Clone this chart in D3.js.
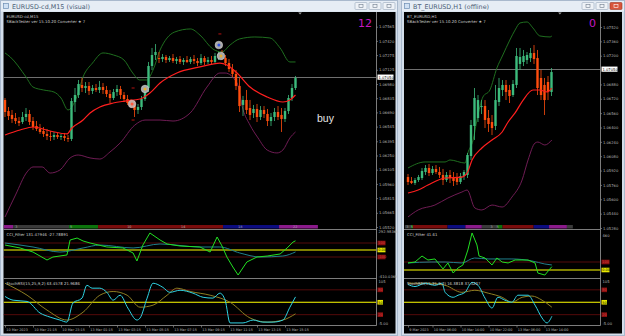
<!DOCTYPE html>
<html>
<head>
<meta charset="utf-8">
<script src="https://cdn.jsdelivr.net/npm/d3@7"></script>
<style>
  body { margin: 0; background: #cfdae7; }
  svg { display: block; font-family: "DejaVu Sans", sans-serif; }
</style>
</head>
<body>
<script>

// ---------- left window: EURUSD-cd,M15 (visual) ----------
// candles as [open, high, low, close]
var leftCandles = [
  [1.06817,1.06837,1.06643,1.06694],[1.06704,1.06745,1.06612,1.06653],[1.06664,1.06715,1.06582,1.06623],
  [1.06633,1.06684,1.06572,1.06602],[1.06602,1.06643,1.06551,1.06582],[1.06592,1.06694,1.06572,1.06643],
  [1.06643,1.06735,1.06602,1.06674],[1.06674,1.06715,1.06561,1.06592],[1.06602,1.06643,1.06510,1.06541],
  [1.06551,1.06602,1.06500,1.06521],[1.06521,1.06572,1.06470,1.06490],[1.06500,1.06541,1.06439,1.06470],
  [1.06470,1.06521,1.06408,1.06449],[1.06449,1.06500,1.06398,1.06439],[1.06439,1.06490,1.06408,1.06459],
  [1.06459,1.06480,1.06419,1.06439],[1.06439,1.06470,1.06408,1.06449],[1.06449,1.06480,1.06398,1.06429],
  [1.06429,1.06459,1.06388,1.06419],[1.06419,1.06837,1.06398,1.06806],[1.06796,1.06939,1.06694,1.06868],
  [1.06868,1.07021,1.06837,1.06980],[1.06970,1.07041,1.06898,1.06939],[1.06939,1.07000,1.06888,1.06960],
  [1.06960,1.07000,1.06868,1.06909],[1.06909,1.06970,1.06878,1.06939],[1.06939,1.06980,1.06898,1.06919],
  [1.06919,1.07011,1.06888,1.06949],[1.06949,1.06990,1.06878,1.06919],[1.06919,1.06960,1.06847,1.06878],
  [1.06878,1.06919,1.06786,1.06837],[1.06837,1.06929,1.06817,1.06898],[1.06898,1.06970,1.06858,1.06929],
  [1.06929,1.06960,1.06827,1.06868],[1.06868,1.06898,1.06796,1.06827],[1.06827,1.06868,1.06766,1.06786],
  [1.06786,1.06827,1.06735,1.06755],[1.06755,1.06806,1.06643,1.06715],[1.06715,1.06776,1.06674,1.06745],
  [1.06745,1.06858,1.06715,1.06827],[1.06827,1.06970,1.06806,1.06939],[1.06939,1.07205,1.06898,1.07164],
  [1.07164,1.07348,1.07123,1.07276],[1.07276,1.07388,1.07225,1.07307],[1.07245,1.07307,1.07194,1.07235],
  [1.07235,1.07286,1.07205,1.07256],[1.07256,1.07276,1.07194,1.07225],[1.07225,1.07266,1.07205,1.07245],
  [1.07245,1.07286,1.07194,1.07215],[1.07215,1.07256,1.07184,1.07235],[1.07235,1.07266,1.07184,1.07205],
  [1.07205,1.07245,1.07174,1.07225],[1.07225,1.07266,1.07194,1.07205],[1.07205,1.07256,1.07184,1.07235],
  [1.07235,1.07276,1.07184,1.07215],[1.07215,1.07245,1.07164,1.07194],[1.07194,1.07286,1.07174,1.07245],
  [1.07245,1.07266,1.07174,1.07205],[1.07205,1.07256,1.07184,1.07225],[1.07225,1.07266,1.07184,1.07205],
  [1.07205,1.07297,1.07194,1.07266],[1.07266,1.07307,1.07225,1.07286],[1.07276,1.07327,1.07225,1.07245],
  [1.07245,1.07276,1.07164,1.07194],[1.07194,1.07235,1.07103,1.07133],[1.07133,1.07184,1.07052,1.07082],
  [1.07082,1.07123,1.06919,1.06960],[1.06960,1.07041,1.06694,1.06755],[1.06766,1.06858,1.06653,1.06817],
  [1.06817,1.06919,1.06674,1.06715],[1.06735,1.06817,1.06612,1.06664],[1.06684,1.06766,1.06633,1.06725],
  [1.06725,1.06776,1.06592,1.06643],[1.06643,1.06755,1.06612,1.06715],[1.06715,1.06755,1.06633,1.06674],
  [1.06674,1.06725,1.06551,1.06602],[1.06602,1.06684,1.06551,1.06643],[1.06643,1.06735,1.06602,1.06694],
  [1.06694,1.06755,1.06612,1.06643],[1.06664,1.06735,1.06490,1.06623],[1.06623,1.06735,1.06592,1.06704],
  [1.06704,1.06868,1.06674,1.06837],[1.06837,1.06980,1.06806,1.06939],[1.06939,1.07062,1.06919,1.07041]
];
// bands and moving average as [candle index, price]
var leftUpper = [[0,1.07297],[1.5,1.07256],[6,1.07052],[8,1.06949],[11,1.06919],[14,1.06898],[16,1.06837],
  [18,1.06715],[20.5,1.06847],[22.3,1.07052],[25,1.07194],[28,1.07297],[31,1.07276],[34,1.07225],
  [36.5,1.07092],[38.5,1.07021],[40.5,1.07021],[42.3,1.07123],[44.3,1.07327],[46.3,1.07450],[48.5,1.07511],
  [53,1.07542],[55.7,1.07480],[59.4,1.07337],[62,1.07307],[64.3,1.07378],[67,1.07440],[71.4,1.07460],
  [75.7,1.07450],[78.6,1.07348],[81.4,1.07205],[83,1.07205]];
var leftLower = [[0,1.05622],[3,1.05847],[6.3,1.06082],[8,1.06133],[10.6,1.06133],[12.9,1.06071],[15.7,1.06102],
  [18.6,1.06225],[20.9,1.06255],[24.3,1.06225],[27.1,1.06214],[30,1.06286],[32.9,1.06378],[37.1,1.06561],
  [40,1.06612],[44.3,1.06612],[48,1.06602],[52.9,1.06684],[57.7,1.06949],[61.4,1.07092],[62.9,1.07092],
  [66.3,1.06990],[68,1.06720],[70,1.06561],[72.3,1.06429],[74.9,1.06306],[77.7,1.06276],[79.4,1.06306],
  [81.4,1.06429],[83,1.06490]];
var leftMA = [[0,1.06459],[4.3,1.06510],[8,1.06541],[12.9,1.06500],[17.7,1.06470],[19.1,1.06531],[22.3,1.06612],
  [24.3,1.06684],[27.1,1.06745],[30.9,1.06786],[34.3,1.06806],[38.6,1.06827],[41.4,1.06888],[44.3,1.06990],
  [49.1,1.07092],[55.7,1.07154],[61.4,1.07194],[63.4,1.07174],[66.3,1.07092],[70,1.06949],[74.9,1.06847],
  [79.4,1.06796],[81.4,1.06817],[83,1.06868]];
// signal markers [candle index, price, kind]
var leftSignals = [[36.3,1.06776,"exit"],[40,1.06929,"add"],[61.1,1.07378,"buy"],[61.7,1.07266,"add"]];
var leftDashes = [[36.6,1.06939],[36.6,1.06612],[61.4,1.07491]];
var leftCciMain = [[0,71],[4.3,29],[8,-29],[12,-143],[13.7,-100],[17.7,-71],[18.6,143],[20.6,171],[22.3,129],
  [24.3,100],[29.1,43],[33.7,29],[36.6,-43],[37.7,-157],[39.4,71],[41.4,243],[44.3,143],[46.3,86],[50,57],
  [55.7,43],[58.6,-29],[60.6,186],[62,57],[63.4,-100],[65.1,-243],[66.6,-357],[69.1,-171],[72,-100],
  [74.9,-86],[78.6,-57],[80.6,29],[82.3,114],[83,131]];
var leftCciSignal = [[0,100],[8,43],[15.7,-29],[22.3,29],[27.1,71],[36.6,29],[44.3,86],[55.7,43],[61.4,43],
  [67.1,-43],[72.9,-100],[79.4,-86],[83,-28]];
var leftStoch = [[0,64],[2.3,55],[6.3,52],[10,24],[12.9,14],[15.7,7],[17.7,2],[19.4,48],[22,60],[23.4,91],
  [24.9,84],[27.1,84],[29.1,74],[30.9,55],[32.9,67],[35.1,36],[37.7,7],[38.6,12],[40.6,60],[42.3,96],
  [45.1,86],[47.1,74],[50,79],[53.7,72],[56.6,62],[59.4,60],[61.4,72],[62.9,55],[64.3,0],[68,0],[70.9,7],
  [73.7,2],[76.6,2],[79.4,7],[81.4,38],[83,63]];
var leftStochSignal = [[0,96],[6.3,67],[12,31],[17.7,7],[22.3,26],[27.1,67],[30.9,76],[34.9,67],[38.6,38],
  [42.3,43],[46.3,67],[49.1,84],[52.9,76],[58.6,67],[64.3,50],[70,12],[74.9,2],[79.4,7],[83,22]];
var leftPriceTicks = [1.07565,1.07420,1.07275,1.07125,1.06980,1.06835,1.06690,1.06545,1.06395,1.06250,
  1.06105,1.05960,1.05815,1.05665,1.05520];
var leftTimeLabels = [[0,"10 Mar 2023"],[8,"10 Mar 21:15"],[16,"10 Mar 23:15"],[24,"13 Mar 01:15"],
  [32,"13 Mar 03:15"],[40,"13 Mar 05:15"],[48,"13 Mar 07:15"],[56,"13 Mar 09:15"],[64,"13 Mar 11:15"],
  [72,"13 Mar 13:15"],[80,"13 Mar 15:15"]];
var leftSessions = [[-0.4,2.3,"pu"],[2.3,18.3,"gy"],[18.3,26.6,"gr"],[26.6,62.3,"rd"],[62.3,78.3,"nv"],[78.3,89.4,"pu"]];
var leftSessionLabels = [[2.9,"3"],[18.6,"5"],[34.9,"10"],[50.3,"14"],[66.6,"18"],[82.3,"22"]];

// ---------- right window: BT_EURUSD,H1 (offline) ----------
var rightCandles = [
  [1.05848,1.05882,1.05759,1.05793],[1.05804,1.05848,1.05770,1.05781],[1.05781,1.05837,1.05759,1.05815],
  [1.05815,1.05871,1.05793,1.05848],[1.05837,1.05949,1.05815,1.05915],[1.05904,1.05982,1.05871,1.05949],
  [1.05949,1.05993,1.05859,1.05893],[1.05893,1.05971,1.05871,1.05938],[1.05938,1.05982,1.05882,1.05904],
  [1.05904,1.05960,1.05837,1.05871],[1.05871,1.05938,1.05759,1.05815],[1.05815,1.05904,1.05793,1.05871],
  [1.05871,1.05926,1.05781,1.05837],[1.05837,1.05904,1.05748,1.05804],[1.05837,1.05893,1.05759,1.05793],
  [1.05793,1.05893,1.05770,1.05859],[1.05859,1.05926,1.05815,1.05904],[1.05871,1.06116,1.05837,1.06094],
  [1.06082,1.06484,1.06038,1.06428],[1.06417,1.06840,1.06261,1.06729],[1.06506,1.06762,1.06461,1.06706],
  [1.06628,1.06706,1.06550,1.06640],[1.06640,1.06706,1.06394,1.06484],[1.06506,1.06595,1.06350,1.06439],
  [1.06461,1.06539,1.06316,1.06394],[1.06417,1.06874,1.06372,1.06706],[1.06684,1.06952,1.06640,1.06840],
  [1.06818,1.06929,1.06751,1.06874],[1.06874,1.06929,1.06706,1.06796],[1.06818,1.06874,1.06673,1.06751],
  [1.06762,1.06929,1.06740,1.06885],[1.06874,1.07286,1.06840,1.07197],[1.07108,1.07286,1.07041,1.07186],
  [1.07130,1.07264,1.07085,1.07197],[1.07152,1.07241,1.07108,1.07208],[1.07174,1.07286,1.07130,1.07230],
  [1.07230,1.07319,1.07108,1.07163],[1.07174,1.07264,1.06762,1.06840],[1.06952,1.07041,1.06706,1.06762],
  [1.06874,1.06952,1.06539,1.06706],[1.06907,1.06974,1.06706,1.06796],[1.06796,1.07063,1.06751,1.07018]
];
var rightUpper = [[0,1.05949],[4.9,1.06016],[10.6,1.06016],[12,1.06038],[16.3,1.06004],[17.1,1.06116],
  [18.6,1.06261],[19.7,1.06484],[21.4,1.06740],[23.4,1.06818],[25.4,1.07063],[27.1,1.07208],[29.1,1.07375],
  [30.6,1.07487],[32,1.07565],[34,1.07576],[35.7,1.07509],[37.7,1.07420],[40.6,1.07409],[41.1,1.07420]];
var rightLower = [[0,1.05403],[2.9,1.05481],[7.7,1.05536],[11.4,1.05614],[15.4,1.05681],[16.9,1.05703],
  [19.1,1.05503],[21.1,1.05481],[24,1.05536],[26.9,1.05514],[29.7,1.05625],[32.6,1.05815],[34.3,1.06038],
  [36.3,1.06227],[37.1,1.06238],[39.1,1.06205],[41.1,1.06261]];
var rightMA = [[0,1.05670],[2.9,1.05703],[5.7,1.05759],[10.6,1.05837],[15.4,1.05848],[16.9,1.05893],
  [18.3,1.06038],[21.1,1.06172],[24,1.06261],[26.9,1.06350],[28.6,1.06461],[30.6,1.06562],[32.9,1.06706],
  [35.7,1.06818],[37.7,1.06818],[39.7,1.06796],[41.1,1.06840]];
var rightCciMain = [[0,88],[2,100],[4,175],[5.7,125],[7.7,138],[10,13],[11.4,88],[12.9,-38],[14.3,25],
  [15.7,63],[17.1,250],[18.3,463],[19.7,313],[20.3,175],[22,150],[24,63],[25.4,150],[26.9,100],[28.6,88],
  [30.6,125],[34.3,125],[36.3,88],[37.1,-38],[39.1,-63],[41.1,42]];
var rightCciSignal = [[0,88],[6.6,100],[10.6,100],[15.4,88],[19,150],[22.9,138],[29.7,138],[35.4,113],
  [39.1,75],[41.1,63]];
var rightStoch = [[0,93],[2,88],[4.9,96],[7.7,91],[9.7,96],[10.6,74],[12.9,62],[14.3,67],[16.3,74],[18.3,98],
  [20,91],[22,60],[24,36],[25.7,62],[27.7,55],[29.7,50],[31.4,67],[34.3,67],[36.3,43],[38.3,12],[39.7,0],
  [41.1,16]];
var rightStochSignal = [[0,96],[5.7,96],[10.6,91],[15.4,74],[19.1,79],[22.9,72],[26.9,62],[29.7,50],
  [32.6,62],[35.4,65],[38.3,55],[41.1,38]];
var rightPriceTicks = [1.07520,1.07360,1.07200,1.06880,1.06720,1.06560,1.06400,1.06240,1.06080,1.05920,
  1.05760,1.05600,1.05440,1.05280];
var rightTimeLabels = [[0,"9 Mar 2023"],[7,"10 Mar 06:00"],[15,"10 Mar 14:00"],[23,"10 Mar 22:00"],
  [31,"13 Mar 06:00"],[39,"13 Mar 14:00"]];
var rightSessions = [[-0.9,0.9,"gy"],[0.9,1.4,"gr"],[1.4,11.3,"rd"],[11.3,16.4,"nv"],[16.4,21.1,"pu"],
  [21.1,25.6,"gy"],[25.6,27,"gr"],[27,35.9,"rd"],[35.9,40.3,"nv"],[40.3,45.4,"pu"],[45.4,47.1,"gy"]];
var rightSessionLabels = [[-0.5,"3"],[0.8,"5"],[23.6,"3"],[25.3,"5"]];


var svg = d3.select("body").append("svg")
            .attr("width", 625)
            .attr("height", 336);

var sessionColor = {pu: "#8a1a8a", gy: "#3a3a3a", gr: "#0c740c", rd: "#7a0c0c", nv: "#0c0c80"};
var bull = "#3dbb7c", bear = "#ff4d0d";
var smallFont = "3.7px";

// window frames and title bars
drawFrame(0, 398, "EURUSD-cd,M15 (visual)", false);
drawFrame(401, 625, "BT_EURUSD,H1 (offline)", true);

drawChart({
  name: "left", left: 3.5, right: 395.5, axisX: 376, firstX: 5, step: 3.5,
  priceDomain: [1.05520, 1.07565], priceRange: [227, 26.7], current: 1.07050,
  cciDomain: [-410.0369, 292.98366], cciRange: [278.7, 229.5],
  cciTop: "292.98366", cciBottom: "-410.0369", cciLevels: [100, -100],
  candles: leftCandles, upper: leftUpper, lower: leftLower, ma: leftMA,
  cciMain: leftCciMain, cciSignal: leftCciSignal, stoch: leftStoch, stochSignal: leftStochSignal,
  priceTicks: leftPriceTicks, timeLabels: leftTimeLabels,
  sessions: leftSessions, sessionLabels: leftSessionLabels, shiftIdx: 84.3,
  symbol: "EURUSD-cd,M15", counter: "12",
  cciText: "CCI_Filter 131.47946 -27.78891", stochText: "StochRSI(15,25,9,2) 63.4578 21.9686"
});

drawChart({
  name: "right", left: 404, right: 622, axisX: 600, firstX: 408, step: 3.5,
  priceDomain: [1.05280, 1.07520], priceRange: [228, 27], current: 1.07050,
  cciDomain: [-100, 460], cciRange: [278, 233.2],
  cciTop: "460", cciBottom: "", cciLevels: [100],
  candles: rightCandles, upper: rightUpper, lower: rightLower, ma: rightMA,
  cciMain: rightCciMain, cciSignal: rightCciSignal, stoch: rightStoch, stochSignal: rightStochSignal,
  priceTicks: rightPriceTicks, timeLabels: rightTimeLabels,
  sessions: rightSessions, sessionLabels: rightSessionLabels, shiftIdx: 43.4,
  symbol: "BT_EURUSD,H1", counter: "0",
  cciText: "CCI_Filter 41.61", stochText: "StochRSI(15,25,9,2) 16.3818 37.5227"
});

// the "buy" note on the left chart
svg.append("text")
   .attr("x", 317).attr("y", 122)
   .attr("fill", "#e6e6e6")
   .style("font-family", "Arial, 'Liberation Sans', sans-serif")
   .style("font-size", "10.5px")
   .text("buy");


/**
* Draws the window border, title bar and the three caption buttons.
**/
function drawFrame(x0, x1, title, closeRed) {
	var g = svg.append("g");
	g.append("rect")
	 .attr("x", x0 + 0.5).attr("y", 0.5)
	 .attr("width", x1 - x0 - 1).attr("height", 335)
	 .attr("fill", "#d3deeb").attr("stroke", "#a9b9cd");
	g.append("rect")
	 .attr("x", x0 + 1).attr("y", 1)
	 .attr("width", x1 - x0 - 2).attr("height", 10.5)
	 .attr("fill", "#e6edf5");

	// little window icon
	g.append("rect")
	 .attr("x", x0 + 3.5).attr("y", 3.5).attr("width", 5).attr("height", 5)
	 .attr("fill", "#cfe0f3").attr("stroke", "#6d8db3").attr("stroke-width", 0.7);

	g.append("text")
	 .attr("x", x0 + 12).attr("y", 8.6)
	 .attr("fill", "#4b5d76")
	 .style("font-size", "6.4px")
	 .text(title);

	// caption buttons
	var bx = [x1 - 43, x1 - 29, x1 - 15];
	bx.forEach(function(b, i) {
		var red = closeRed && i == 2;
		g.append("rect")
		 .attr("x", b).attr("y", 2.5).attr("width", 12).attr("height", 7)
		 .attr("rx", 1)
		 .attr("fill", red ? "#d8553a" : "#eef2f7")
		 .attr("stroke", red ? "#9c3522" : "#98a8bc").attr("stroke-width", 0.6);
		g.append("rect")
		 .attr("x", b + 4).attr("y", 4.5).attr("width", 4).attr("height", 3)
		 .attr("fill", "none")
		 .attr("stroke", red ? "#fff" : "#707c8c").attr("stroke-width", 0.6);
	});
}


/**
* Draws one terminal chart: price panel with candles, bands and MA,
* the CCI panel, the StochRSI panel and the axes.
**/
function drawChart(cfg) {
	var g = svg.append("g");

	// black chart area
	g.append("rect")
	 .attr("x", cfg.left).attr("y", 12)
	 .attr("width", cfg.right - cfg.left).attr("height", 321.5)
	 .attr("fill", "#000");

	// scales
	var x = d3.scaleLinear().domain([0, 1]).range([cfg.firstX, cfg.firstX + cfg.step]);
	var y = d3.scaleLinear().domain(cfg.priceDomain).range(cfg.priceRange);
	var yCci = d3.scaleLinear().domain(cfg.cciDomain).range(cfg.cciRange);
	var yStoch = d3.scaleLinear().domain([-5, 105]).range([325, 279.5]);

	var clipId = "clip-" + cfg.name;
	var clip = g.append("clipPath").attr("id", clipId);
	clip.append("rect")
	    .attr("x", cfg.left).attr("y", 12)
	    .attr("width", cfg.axisX - cfg.left).attr("height", 313);

	var plot = g.append("g").attr("clip-path", "url(#" + clipId + ")");

	// current price line
	plot.append("line")
	    .attr("x1", cfg.left).attr("x2", cfg.axisX)
	    .attr("y1", Math.round(y(cfg.current)) + 0.5).attr("y2", Math.round(y(cfg.current)) + 0.5)
	    .attr("stroke", "#8c8c8c").attr("stroke-width", 0.8);

	var priceLine = d3.line()
	                  .x(function(d) { return x(d[0]); })
	                  .y(function(d) { return y(d[1]); })
	                  .curve(d3.curveMonotoneX);

	// bollinger style bands and moving average
	plot.append("path").datum(cfg.upper)
	    .attr("d", priceLine).attr("fill", "none")
	    .attr("stroke", "#237a23").attr("stroke-width", 0.9);
	plot.append("path").datum(cfg.lower)
	    .attr("d", priceLine).attr("fill", "none")
	    .attr("stroke", "#7c1f5e").attr("stroke-width", 0.9);

	// candles
	var candle = plot.selectAll(".candle")
	                 .data(cfg.candles)
	                 .enter().append("g")
	                 .attr("class", "candle");

	candle.append("line")
	      .attr("x1", function(d, i) { return x(i); })
	      .attr("x2", function(d, i) { return x(i); })
	      .attr("y1", function(d) { return y(d[1]); })
	      .attr("y2", function(d) { return y(d[2]); })
	      .attr("stroke", function(d) { return d[3] >= d[0] ? bull : bear; })
	      .attr("stroke-width", 0.8);

	candle.append("rect")
	      .attr("x", function(d, i) { return x(i) - 1.2; })
	      .attr("width", 2.4)
	      .attr("y", function(d) { return y(Math.max(d[0], d[3])); })
	      .attr("height", function(d) { return Math.max(0.8, Math.abs(y(d[0]) - y(d[3]))); })
	      .attr("fill", function(d) { return d[3] >= d[0] ? bull : bear; });

	plot.append("path").datum(cfg.ma)
	    .attr("d", priceLine).attr("fill", "none")
	    .attr("stroke", "#ff1f1f").attr("stroke-width", 1.2);

	// signal dashes and circles (left chart only)
	if (cfg.name == "left") {
		plot.selectAll(".dash")
		    .data(leftDashes)
		    .enter().append("line")
		    .attr("x1", function(d) { return x(d[0]) - 1.5; })
		    .attr("x2", function(d) { return x(d[0]) + 1.5; })
		    .attr("y1", function(d) { return y(d[1]); })
		    .attr("y2", function(d) { return y(d[1]); })
		    .attr("stroke", "#c81414").attr("stroke-width", 0.9);

		var inner = {exit: "#ff5a3c", add: "#e8b030", buy: "#3050e0"};
		var sig = plot.selectAll(".sig")
		              .data(leftSignals)
		              .enter().append("g")
		              .attr("transform", function(d) { return "translate(" + x(d[0]) + "," + y(d[1]) + ")"; });
		sig.append("circle").attr("r", 3.8)
		   .attr("fill", function(d) { return d[2] == "exit" ? "#c8a8a0" : "#a8a8a8"; })
		   .attr("stroke", "#e0e0e0").attr("stroke-width", 0.5);
		sig.append("circle").attr("r", 1.5)
		   .attr("fill", function(d) { return inner[d[2]]; });
	}

	// session colour bar at the bottom of the price panel
	plot.selectAll(".session")
	    .data(cfg.sessions)
	    .enter().append("rect")
	    .attr("x", function(d) { return x(d[0]); })
	    .attr("width", function(d) { return x(d[1]) - x(d[0]); })
	    .attr("y", 225).attr("height", 3.5)
	    .attr("fill", function(d) { return sessionColor[d[2]]; });
	plot.selectAll(".sessionLabel")
	    .data(cfg.sessionLabels)
	    .enter().append("text")
	    .attr("x", function(d) { return x(d[0]); })
	    .attr("y", 228.3)
	    .attr("fill", "#b0b0b0")
	    .style("font-size", "3.4px")
	    .text(function(d) { return d[1]; });

	// CCI panel
	var levelColor = "#6a0d0d";
	cfg.cciLevels.forEach(function(v) {
		plot.append("line")
		    .attr("x1", cfg.left).attr("x2", cfg.axisX)
		    .attr("y1", yCci(v)).attr("y2", yCci(v))
		    .attr("stroke", levelColor).attr("stroke-width", 0.8);
	});
	plot.append("line")
	    .attr("x1", cfg.left).attr("x2", cfg.axisX)
	    .attr("y1", yCci(0)).attr("y2", yCci(0))
	    .attr("stroke", "#ffff00").attr("stroke-width", 1.2);

	var cciLine = d3.line()
	                .x(function(d) { return x(d[0]); })
	                .y(function(d) { return yCci(d[1]); });
	plot.append("path").datum(cfg.cciSignal)
	    .attr("d", cciLine.curve(d3.curveMonotoneX)).attr("fill", "none")
	    .attr("stroke", "#1f7f8c").attr("stroke-width", 1);
	plot.append("path").datum(cfg.cciMain)
	    .attr("d", cciLine.curve(d3.curveLinear)).attr("fill", "none")
	    .attr("stroke", "#22e022").attr("stroke-width", 1);

	// StochRSI panel
	[80, 20].forEach(function(v) {
		plot.append("line")
		    .attr("x1", cfg.left).attr("x2", cfg.axisX)
		    .attr("y1", yStoch(v)).attr("y2", yStoch(v))
		    .attr("stroke", levelColor).attr("stroke-width", 0.8);
	});
	plot.append("line")
	    .attr("x1", cfg.left).attr("x2", cfg.axisX)
	    .attr("y1", yStoch(50)).attr("y2", yStoch(50))
	    .attr("stroke", "#ffff00").attr("stroke-width", 1.2);

	var stochLine = d3.line()
	                  .x(function(d) { return x(d[0]); })
	                  .y(function(d) { return yStoch(d[1]); })
	                  .curve(d3.curveMonotoneX);
	plot.append("path").datum(cfg.stochSignal)
	    .attr("d", stochLine).attr("fill", "none")
	    .attr("stroke", "#8e7e22").attr("stroke-width", 1);
	plot.append("path").datum(cfg.stoch)
	    .attr("d", stochLine).attr("fill", "none")
	    .attr("stroke", "#2fd3e3").attr("stroke-width", 1);

	// panel separators and the price scale line
	[229.5, 278.5, 325.5].forEach(function(yy) {
		g.append("line")
		 .attr("x1", cfg.left).attr("x2", cfg.axisX + 0.5)
		 .attr("y1", yy).attr("y2", yy)
		 .attr("stroke", "#8a8a8a").attr("stroke-width", 0.9);
	});
	g.append("line")
	 .attr("x1", cfg.axisX + 0.5).attr("x2", cfg.axisX + 0.5)
	 .attr("y1", 12).attr("y2", 325.5)
	 .attr("stroke", "#8a8a8a").attr("stroke-width", 0.9);

	// chart shift marker
	g.append("path")
	 .attr("d", "M" + (x(cfg.shiftIdx) - 1.8) + ",12.5 L" + (x(cfg.shiftIdx) + 1.8) + ",12.5 L" + x(cfg.shiftIdx) + ",14.5 Z")
	 .attr("fill", "#9a9a9a");

	// price axis
	var priceAxis = g.append("g")
	                 .attr("transform", "translate(" + (cfg.axisX + 0.5) + ",0)")
	                 .call(d3.axisRight(y).tickValues(cfg.priceTicks).tickSize(1.5)
	                         .tickFormat(d3.format(".5f")));
	styleAxis(priceAxis, 2.5);

	// current price box
	var cy = y(cfg.current);
	g.append("rect")
	 .attr("x", cfg.axisX + 1.5).attr("y", cy - 2.6)
	 .attr("width", 16).attr("height", 5.2)
	 .attr("fill", "#ffffff");
	g.append("text")
	 .attr("x", cfg.axisX + 2.5).attr("y", cy + 1.4)
	 .attr("fill", "#000")
	 .style("font-size", smallFont)
	 .text(d3.format(".5f")(cfg.current));

	// CCI scale labels
	axisText(g, cfg.axisX + 2.5, yCci(cfg.cciDomain[1]) + 3.3, cfg.cciTop);
	if (cfg.cciBottom) axisText(g, cfg.axisX + 2.5, yCci(cfg.cciDomain[0]) - 1, cfg.cciBottom);
	levelBox(g, cfg.axisX, yCci(100), "100", "#8b1010");
	if (cfg.cciLevels.indexOf(-100) >= 0) levelBox(g, cfg.axisX, yCci(-100), "-100", "#8b1010");
	levelBox(g, cfg.axisX, yCci(0), "0.00", "#e8e800");

	// stoch scale labels
	axisText(g, cfg.axisX + 2.5, yStoch(105) + 3.5, "105");
	axisText(g, cfg.axisX + 2.5, yStoch(-5) + 0.3, "-5.00");
	levelBox(g, cfg.axisX, yStoch(80), "80", "#8b1010");
	levelBox(g, cfg.axisX, yStoch(50), "50", "#e8e800");
	levelBox(g, cfg.axisX, yStoch(20), "20", "#8b1010");

	// time axis
	var timeAxis = g.append("g")
	                .attr("transform", "translate(0,325.5)")
	                .call(d3.axisBottom(x)
	                        .tickValues(cfg.timeLabels.map(function(d) { return d[0]; }))
	                        .tickFormat(function(d, i) { return cfg.timeLabels[i][1]; })
	                        .tickSize(2));
	styleAxis(timeAxis, 0);
	timeAxis.selectAll("text")
	        .style("font-size", "3.4px")
	        .attr("text-anchor", "start")
	        .attr("x", 0.8).attr("y", 3).attr("dy", "0.71em");

	// header texts
	headerText(g, cfg.left + 3, 17.5, cfg.symbol);
	headerText(g, cfg.left + 3, 23, "SBackTester   ver 15.10.20   Converter   \u2605 7");
	headerText(g, cfg.left + 3, 235.5, cfg.cciText);
	headerText(g, cfg.left + 3, 284.5, cfg.stochText);

	g.append("text")
	 .attr("x", cfg.axisX - 4).attr("y", 27)
	 .attr("text-anchor", "end")
	 .attr("fill", "#c418c4")
	 .style("font-size", "11px")
	 .text(cfg.counter);
}


// makes a d3 axis look like the terminal's grey scale
function styleAxis(axis, dx) {
	axis.select(".domain").remove();
	axis.attr("font-family", null).attr("font-size", null);
	axis.selectAll("line").attr("stroke", "#8a8a8a").attr("stroke-width", 0.7);
	axis.selectAll("text")
	    .attr("fill", "#b8b8b8")
	    .style("font-size", smallFont);
	if (dx) axis.selectAll("text").attr("x", dx);
}

function axisText(g, xx, yy, t) {
	g.append("text")
	 .attr("x", xx).attr("y", yy)
	 .attr("fill", "#b8b8b8")
	 .style("font-size", smallFont)
	 .text(t);
}

// small coloured label box on the indicator scale
function levelBox(g, ax, yy, t, fill) {
	g.append("rect")
	 .attr("x", ax + 1.5).attr("y", yy - 2.3)
	 .attr("width", t.length > 2 ? 8 : 5.5).attr("height", 4.6)
	 .attr("fill", fill);
	g.append("text")
	 .attr("x", ax + 2.2).attr("y", yy + 1.3)
	 .attr("fill", fill == "#e8e800" ? "#000" : "#d04040")
	 .style("font-size", "3.5px")
	 .text(t);
}

function headerText(g, xx, yy, t) {
	g.append("text")
	 .attr("x", xx).attr("y", yy)
	 .attr("fill", "#cfcfcf")
	 .style("font-size", "3.9px")
	 .text(t);
}
</script>
</body>
</html>
